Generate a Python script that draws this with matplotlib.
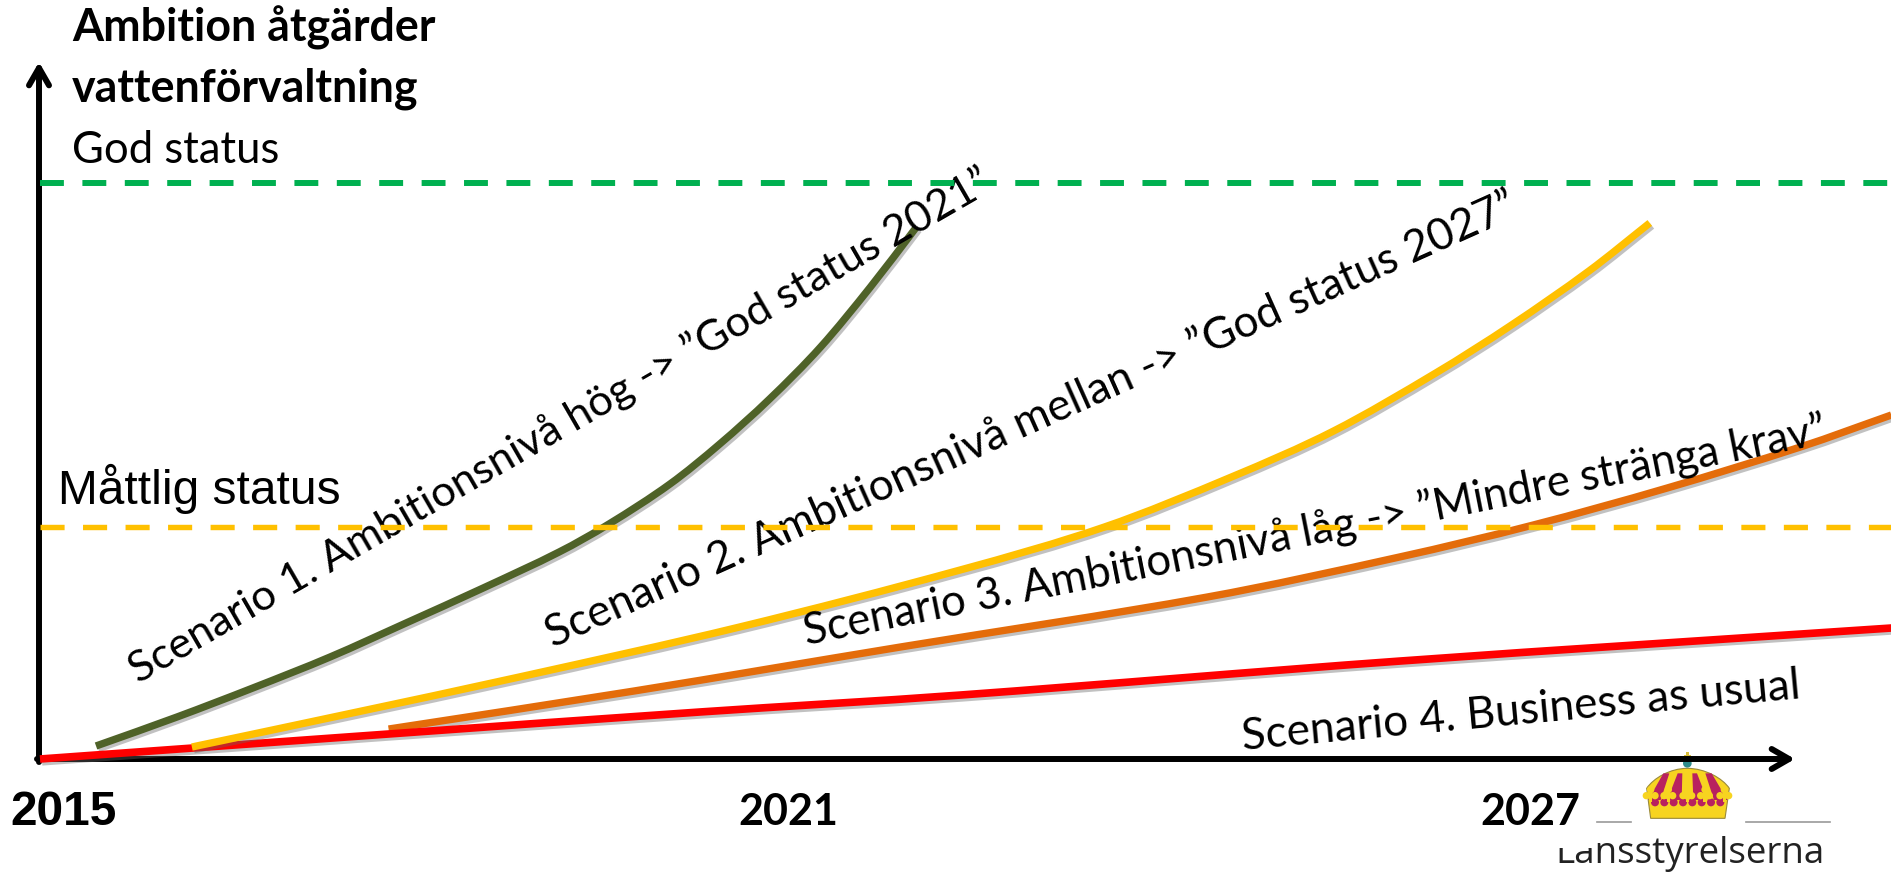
import matplotlib
matplotlib.use("Agg")
import matplotlib.pyplot as plt
import matplotlib.patheffects as pe
from matplotlib.path import Path
from matplotlib.patches import PathPatch, Polygon, Rectangle, Circle
from matplotlib.transforms import Affine2D

# ---- data ----
tick_years = [2015, 2021, 2027]
god_level = 100.0
mattlig_level = 40.3

s1_x = [2015.45, 2016.10, 2016.71, 2017.33, 2017.94, 2018.56, 2019.17, 2019.57, 2020.06, 2020.46, 2020.86, 2021.27, 2021.67, 2022.04]
s1_y = [2.26, 7.29, 12.33, 17.71, 23.61, 29.69, 35.94, 40.8, 47.74, 54.69, 62.5, 71.53, 81.94, 92.36]
s2_x = [2016.22, 2017.47, 2018.85, 2020.62, 2022.39, 2023.55, 2024.57, 2025.39, 2026.21, 2026.82, 2027.44, 2027.93]
s2_y = [2.08, 7.81, 14.24, 22.92, 32.81, 40.28, 48.96, 56.94, 67.0, 75.35, 84.7, 93.06]
s3_x = [2017.80, 2019.77, 2021.91, 2024.37, 2025.92, 2026.99, 2028.07, 2029.14, 2029.87]
s3_y = [5.2, 11.8, 19.44, 28.1, 35.07, 40.6, 47.05, 54.17, 59.72]
s4_x = [2015.0, 2017.80, 2020.30, 2022.39, 2025.92, 2029.87]
s4_y = [0.0, 4.34, 8.16, 11.1, 17.0, 22.74]

W, H = 1891, 874
fig = plt.figure(figsize=(W / 100, H / 100), dpi=100, facecolor="white")
ax = fig.add_axes([0, 0, 1, 1])
X0, PXYR, Y0, PXLV = 40.0, 124.5, 759.0, 5.76
ax.set_xlim(2015 - X0 / PXYR, 2015 + (W - X0) / PXYR)
ax.set_ylim((Y0 - H) / PXLV, Y0 / PXLV)
ax.axis("off")
px = Affine2D().scale(1, -1).translate(0, H)   # reference pixel positions for text/decor


def smooth(x, y):
    """Bezier path through the read points (Hermite tangents from neighbours)."""
    n = len(x)
    m = []
    for i in range(n):
        a, b = max(i - 1, 0), min(i + 1, n - 1)
        m.append((y[b] - y[a]) / (x[b] - x[a]))
    verts, codes = [(x[0], y[0])], [Path.MOVETO]
    for i in range(n - 1):
        h = x[i + 1] - x[i]
        verts += [(x[i] + h / 3, y[i] + m[i] * h / 3),
                  (x[i + 1] - h / 3, y[i + 1] - m[i + 1] * h / 3),
                  (x[i + 1], y[i + 1])]
        codes += [Path.CURVE4] * 3
    return Path(verts, codes)


shadow = [pe.SimpleLineShadow(offset=(1.5, -2.0), shadow_color="#666666", alpha=0.4), pe.Normal()]


def curve(x, y, color, z, lw=5.3):
    ax.add_patch(PathPatch(smooth(x, y), fc="none", ec=color, lw=lw, capstyle="butt",
                           zorder=z, path_effects=shadow))


# axes arrows
arrow = dict(arrowstyle="->,head_length=1.25,head_width=0.72", color="black", lw=4.3,
             shrinkA=0, shrinkB=0, capstyle="round", joinstyle="round")
ax.annotate("", xy=(39, 62), xytext=(39, 762), xycoords=px, textcoords=px, arrowprops=arrow, zorder=3)
ax.annotate("", xy=(1795, 759), xytext=(37, 759), xycoords=px, textcoords=px, arrowprops=arrow, zorder=3)

# scenarios
curve(s1_x, s1_y, "#4F6228", 5)
curve(s3_x, s3_y, "#E46C0A", 5)
curve(s4_x, s4_y, "#FF0000", 6, lw=5.5)
curve(s2_x, s2_y, "#FFC000", 7)

# texts
body = "Lato"
t = dict(transform=px, ha="left", va="baseline", rotation_mode="anchor", color="black", zorder=8)
ax.text(72, 42, "Ambition åtgärder", family="Lato", weight="bold", fontsize=32.2, **t)
ax.text(72, 101, "vattenförvaltning", family="Lato", weight="bold", fontsize=32.2, **t)
ax.text(72, 163, "God status", family=body, fontsize=31.4, **t)
ax.text(58, 504, "Måttlig status", family="Liberation Sans", fontsize=34.5, **t)
ax.text(138, 684, "Scenario 1. Ambitionsnivå hög -> ”God status 2021”", family=body, fontsize=31.2, rotation=30.0, **t)
ax.text(553, 648, "Scenario 2. Ambitionsnivå mellan -> ”God status 2027”", family=body, fontsize=31.7, rotation=24.1, **t)
ax.text(806, 645, "Scenario 3. Ambitionsnivå låg -> ”Mindre stränga krav”", family=body, fontsize=31.4, rotation=11.2, **t)
ax.text(1243, 750, "Scenario 4. Business as usual", family=body, fontsize=31.9, rotation=5.3, **t)

ax.text(10, 825, str(tick_years[0]), family="Liberation Sans", weight="bold", fontsize=34.5, **t)
ax.text(738, 825, str(tick_years[1]), family="Lato", weight="bold", fontsize=31, **t)
ax.text(1480, 825, str(tick_years[2]), family="Lato", weight="bold", fontsize=31, **t)

# target levels, drawn over curves and text as in the reference
ax.plot([tick_years[0], ax.get_xlim()[1]], [god_level] * 2, color="#00B050", lw=4.3,
        dashes=(4.0, 3.1), dash_capstyle="butt", zorder=9)
ax.plot([tick_years[0], ax.get_xlim()[1]], [mattlig_level] * 2, color="#FFC000", lw=3.9,
        dashes=(4.45, 3.4), dash_capstyle="butt", zorder=9)

# logo
YEL, CRI = "#F7D420", "#B8215F"
def zm(p):
    return (1630 + p[0] / 3, 745 + p[1] / 3)

def poly(pts, fc, z=10, ec="none"):
    ax.add_patch(Polygon([zm(p) for p in pts], closed=True, fc=fc, ec=ec, lw=0.6, transform=px, zorder=z))

def dot(p, r, fc, z=11):
    ax.add_patch(Circle(zm(p), r / 3, fc=fc, ec="none", transform=px, zorder=z))

ax.plot([1597, 1631], [822, 822], color="#999999", lw=1.2, transform=px, zorder=10)
ax.plot([1746, 1830], [822, 822], color="#999999", lw=1.2, transform=px, zorder=10)
dome_pts = [zm(p) for p in [(50, 130), (70, 100), (120, 70), (172, 70), (225, 70), (278, 100), (298, 130), (285, 220), (62, 220)]]
dome = Path(dome_pts + [dome_pts[0]],
            [Path.MOVETO, Path.CURVE4, Path.CURVE4, Path.CURVE4, Path.CURVE4, Path.CURVE4, Path.CURVE4,
             Path.LINETO, Path.LINETO, Path.CLOSEPOLY])
ax.add_patch(PathPatch(dome, fc=YEL, ec="#9A8A3A", lw=0.8, transform=px, zorder=10))
for top_a, top_b, a, b in [(100, 118, 55, 92), (143, 157, 112, 155), (187, 201, 190, 232), (226, 245, 252, 292)]:
    poly([(top_a, 85), (top_b, 85), (b, 165), (a, 165)], CRI)
for cx in [75, 103, 131, 159, 187, 215, 243, 271]:
    dot((cx, 172), 12, CRI, z=10.5)
for cx in [62, 115, 172, 225, 283]:
    dot((cx, 134), 11, YEL)
    dot((cx - 13, 152), 11, YEL)
    dot((cx + 13, 152), 11, YEL)
    poly([(cx - 5, 140), (cx + 5, 140), (cx + 5, 170), (cx - 5, 170)], YEL, z=11)
dot((172, 55), 13, "#2E8C8C", z=2)
poly([(169, 22), (176, 22), (176, 30), (184, 30), (184, 37), (176, 37), (176, 45), (169, 45), (169, 37), (161, 37), (161, 30), (169, 30)],
     "#D9BE3A", z=2)

ax.text(1555, 863, "Lansstyrelserna", family="Open Sans", fontsize=26.5, **{**t, "color": "#222222"})
ax.add_patch(Rectangle((1550, 826), 43, 22, fc="white", ec="none", transform=px, zorder=9))

fig.savefig("out.png", dpi=100, facecolor="white")
